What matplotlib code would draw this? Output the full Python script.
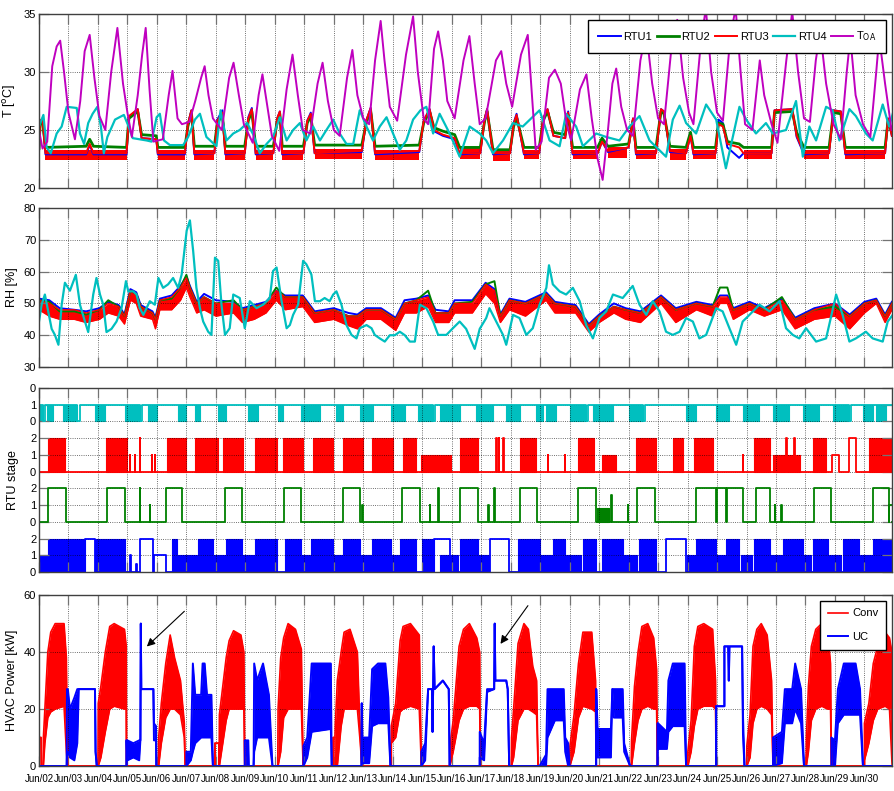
import matplotlib
matplotlib.use('Agg')
import matplotlib.pyplot as plt
from matplotlib import font_manager
import numpy as np

plt.rcParams['font.family'] = ['Liberation Sans', 'DejaVu Sans']
plt.rcParams['font.size'] = 8

# ---------------- data (time in days from Jun/02 00:00) ----------------
day_labels = ['Jun/%02d' % d for d in range(2, 31)]

# outdoor air temperature
toa_t = [0.0, 0.12, 0.28, 0.45, 0.6, 0.72, 0.85, 1.0, 1.22, 1.4, 1.55, 1.72, 1.88, 2.05, 2.25, 2.45,
         2.66, 2.85, 3.0, 3.15, 3.35, 3.5, 3.62, 3.75, 3.88, 4.2, 4.4, 4.53, 4.7, 4.85, 5.1, 5.3, 5.5,
         5.62, 5.75, 5.9, 6.2, 6.45, 6.6, 6.78, 6.95, 7.25, 7.45, 7.58, 7.75, 7.9, 8.15, 8.4, 8.6, 8.78,
         8.95, 9.2, 9.45, 9.62, 9.8, 10.0, 10.2, 10.45, 10.63, 10.8, 11.0, 11.2, 11.4, 11.59, 11.72,
         11.9, 12.15, 12.45, 12.69, 12.85, 13.05, 13.2, 13.4, 13.54, 13.7, 13.85, 14.1, 14.4, 14.6,
         14.78, 14.95, 15.15, 15.5, 15.68, 15.85, 16.05, 16.35, 16.58, 16.72, 16.85, 17.05, 17.3, 17.5,
         17.7, 17.9, 18.05, 18.35, 18.57, 18.75, 18.95, 19.12, 19.3, 19.45, 19.58, 19.75, 19.95, 20.15,
         20.4, 20.6, 20.8, 21.0, 21.2, 21.45, 21.65, 21.85, 22.05, 22.2, 22.45, 22.62, 22.8, 23.0, 23.2,
         23.45, 23.63, 23.8, 23.95, 24.2, 24.45, 24.6, 24.85, 25.05, 25.35, 25.55, 25.75, 25.95, 26.15,
         26.35, 26.5, 26.7, 26.95, 27.2, 27.4, 27.52, 27.7, 27.95, 28.2, 28.4, 28.5, 28.7, 28.92]
toa_v = [25.0, 23.4, 24.0, 30.5, 32.2, 32.7, 30.0, 26.5, 24.2, 27.5, 31.8, 33.2, 29.5, 26.2, 25.0, 30.0,
         33.8, 29.0, 26.5, 24.4, 28.0, 31.5, 33.8, 28.5, 24.0, 24.2, 28.0, 30.1, 26.0, 25.5, 25.7, 27.5, 29.5,
         30.5, 28.0, 26.0, 25.0, 29.5, 30.8, 28.0, 25.5, 23.9, 28.0, 29.8, 27.0, 24.5, 23.2, 28.5, 31.5, 28.0,
         25.0, 24.7, 29.0, 30.8, 27.5, 25.0, 24.5, 29.5, 31.9, 28.0, 26.0, 25.5, 31.0, 34.4, 31.0,
         27.0, 25.8, 31.5, 34.8, 30.0, 26.0, 25.5, 32.0, 33.5, 31.0, 27.5, 26.0, 31.0, 33.1,
         29.0, 25.5, 26.0, 31.0, 31.8, 29.0, 27.0, 31.5, 33.2, 28.0, 23.3, 24.0, 29.5, 30.2,
         29.0, 25.5, 24.1, 28.5, 29.8, 26.0, 22.5, 20.7, 25.0, 29.0, 30.3, 27.0, 25.0, 24.5,
         31.0, 33.5, 29.0, 26.0, 25.5, 32.0, 34.5, 29.5, 26.5, 25.5, 32.5, 35.5, 30.0, 26.5, 25.8,
         33.0, 35.5, 30.0, 25.5, 25.0, 31.0, 28.0, 25.5, 23.9, 31.0, 35.2, 30.0, 26.0, 25.7,
         31.0, 33.5, 29.0, 25.5, 24.2, 30.0, 33.0, 28.0, 25.5, 24.4, 30.0, 33.0, 29.0, 25.0]

# zone temperatures RTU1..RTU3 (shared time breakpoints)
rtu_t = [0.0, 0.04, 0.12, 0.22, 1.6, 1.72, 1.85, 2.97, 3.05, 3.35, 3.48, 3.98, 4.03, 4.95, 5.05, 5.17,
         5.27, 5.95, 6.05, 6.22, 6.32, 6.98, 7.1, 7.22, 7.35, 7.95, 8.08, 8.17, 8.25, 8.97, 9.1, 9.22,
         9.35, 10.95, 11.1, 11.25, 11.4, 12.9, 13.05, 13.25, 13.4, 13.7, 14.1, 14.27, 14.97, 15.12,
         15.2, 15.4, 15.98, 16.1, 16.2, 16.45, 16.97, 17.1, 17.25, 17.45, 17.85, 17.95, 18.1, 18.95,
         19.1, 19.3, 20.0, 20.15, 20.25, 20.93, 21.1, 21.2, 21.4, 21.95, 22.1, 22.2, 22.95, 23.05,
         23.2, 23.35, 23.75, 23.9, 24.85, 24.95, 25.55, 25.7, 25.95, 26.8, 26.95, 27.2, 27.35, 28.7,
         28.8, 28.93]
rtu3_T = [23.2, 25.8, 26.0, 23.0, 23.0, 23.8, 23.0, 23.0, 26.2, 26.8, 24.3, 24.2, 23.0, 23.0, 25.5, 26.7,
          23.0, 23.0, 25.8, 26.5, 23.0, 23.0, 26.0, 26.8, 23.0, 23.0, 26.0, 26.6, 23.0, 23.0, 25.8, 26.4,
          23.0, 23.2, 25.8, 26.9, 23.0, 23.2, 25.8, 26.8, 25.0, 24.6, 24.3, 23.0, 23.0, 26.0,
          26.8, 23.0, 23.0, 25.5, 26.3, 23.0, 23.0, 26.0, 26.8, 24.5, 24.3, 26.5, 23.0, 23.0,
          24.0, 23.2, 23.5, 26.0, 23.0, 23.0, 26.8, 26.6, 23.2, 23.0, 24.5, 23.0, 23.0, 25.5,
          25.3, 23.8, 23.5, 23.0, 23.0, 26.7, 26.8, 24.5, 23.0, 23.0, 26.7, 26.6, 23.0, 23.0,
          26.0, 24.5]
rtu2_T = [23.4, 25.6, 25.8, 23.5, 23.6, 24.2, 23.6, 23.5, 26.0, 26.6, 24.6, 24.5, 23.5, 23.5, 25.3, 26.5,
          23.6, 23.6, 25.6, 26.3, 23.6, 23.6, 25.8, 26.6, 23.6, 23.6, 25.8, 26.4, 23.6, 23.6, 25.6, 26.2,
          23.7, 23.7, 25.6, 26.7, 23.6, 23.7, 25.6, 26.6, 25.2, 24.9, 24.6, 23.5, 23.5, 25.8,
          26.6, 23.3, 23.3, 25.3, 26.1, 23.5, 23.5, 25.8, 26.6, 24.8, 24.6, 26.3, 23.5, 23.5,
          24.3, 23.6, 23.8, 25.8, 23.5, 23.5, 26.6, 26.4, 23.6, 23.5, 24.8, 23.5, 23.5, 25.6,
          25.5, 24.0, 23.8, 23.5, 23.5, 26.5, 26.6, 24.8, 23.5, 23.5, 26.5, 26.4, 23.5, 23.5,
          25.8, 24.8]
rtu1_T = [23.0, 25.7, 25.9, 22.9, 22.9, 23.7, 22.9, 22.9, 26.1, 26.8, 24.3, 24.2, 22.9, 22.9, 25.5, 26.7,
          22.9, 23.0, 25.9, 26.7, 22.9, 23.0, 26.1, 26.9, 22.9, 23.0, 26.0, 26.6, 22.9, 23.0, 25.8, 26.5,
          23.0, 23.1, 25.8, 26.9, 22.9, 23.1, 25.8, 26.8, 24.9, 24.5, 24.2, 22.9, 23.0, 26.0,
          26.8, 22.9, 23.0, 25.6, 26.4, 22.9, 23.0, 26.0, 26.8, 24.5, 24.3, 26.6, 22.9, 23.0,
          24.0, 23.1, 23.5, 26.0, 22.9, 23.0, 26.8, 26.6, 23.1, 23.0, 24.5, 22.9, 23.0, 25.9,
          25.6, 23.5, 22.6, 23.0, 23.0, 26.7, 26.8, 24.4, 22.9, 23.0, 26.7, 26.6, 22.9, 23.0,
          26.0, 24.5]
# periods where RTU3 temperature chatters in a band (start, end, low, high)
rtu3_T_band = [(0.22, 2.97, 22.4, 23.3), (4.03, 4.95, 22.4, 23.3), (5.27, 5.95, 22.4, 23.3),
               (6.32, 6.98, 22.4, 23.3), (7.35, 7.95, 22.4, 23.3), (8.25, 8.97, 22.4, 23.3),
               (9.35, 10.95, 22.5, 23.4), (11.4, 12.9, 22.4, 23.3), (14.27, 14.97, 22.5, 23.5),
               (15.4, 15.98, 22.3, 23.4), (16.45, 16.97, 22.5, 23.3), (18.1, 18.95, 22.5, 23.3),
               (19.3, 19.95, 22.6, 23.5), (20.25, 20.93, 22.5, 23.3), (21.4, 21.95, 22.4, 23.4),
               (22.2, 22.95, 22.5, 23.3), (23.9, 24.85, 22.5, 23.3), (25.95, 26.8, 22.5, 23.3),
               (27.35, 28.7, 22.5, 23.3)]

rtu4_T_t = [0.0, 0.15, 0.26, 0.4, 0.6, 0.77, 0.94, 1.28, 1.39, 1.53, 1.67, 1.82, 1.98, 2.1, 2.2, 2.32,
            2.58, 2.88, 3.04, 3.18, 3.65, 3.82, 3.99, 4.1, 4.24, 4.44, 4.89, 5.06, 5.29, 5.46, 5.68,
            6.02, 6.16, 6.36, 6.59, 6.81, 7.06, 7.27, 7.49, 7.72, 7.94, 8.17, 8.4, 8.62, 8.85, 9.07,
            9.3, 9.53, 9.75, 9.98, 10.2, 10.43, 10.66, 10.88, 11.11, 11.33, 11.56, 11.79, 12.01, 12.24,
            12.46, 12.69, 12.94, 13.14, 13.37, 13.59, 13.93, 14.27, 14.61, 14.95, 15.17, 15.4, 15.74,
            16.08, 16.41, 16.98, 17.32, 17.66, 17.88, 18.22, 18.45, 18.9, 19.24, 19.69, 20.03, 20.37,
            20.71, 21.27, 21.5, 21.73, 21.95, 22.29, 22.63, 22.97, 23.3, 23.76, 23.99, 24.32, 24.66,
            24.89, 25.34, 25.68, 25.91, 26.13, 26.36, 26.7, 26.92, 27.15, 27.49, 27.71, 28.05, 28.28,
            28.62, 28.84, 28.96]
rtu4_T = [25.3, 26.3, 23.5, 23.0, 24.7, 25.3, 27.0, 26.9, 24.7, 23.8, 25.6, 26.4, 27.0, 25.3, 23.0, 24.4,
          25.9, 26.3, 25.3, 24.3, 24.1, 24.0, 26.1, 26.4, 24.1, 23.7, 23.7, 24.4, 25.9, 26.4, 24.4,
          23.6, 26.7, 24.1, 24.7, 25.0, 25.6, 24.6, 23.0, 23.8, 24.4, 26.1, 24.1, 25.0, 25.6, 24.1,
          25.3, 24.1, 25.0, 25.9, 24.7, 23.8, 23.8, 26.7, 25.3, 24.1, 25.3, 26.1, 24.7, 23.3,
          24.1, 25.9, 26.7, 27.0, 24.7, 26.4, 24.7, 22.7, 25.3, 24.7, 24.1, 23.0, 24.1,
          25.6, 25.3, 26.7, 24.1, 23.6, 26.4, 25.3, 23.6, 24.7, 24.4, 24.1, 25.3, 26.2,
          24.1, 22.7, 25.9, 27.1, 25.6, 24.7, 27.2, 25.9, 21.7, 27.0, 25.9, 24.7, 25.6,
          24.7, 25.0, 27.5, 22.7, 25.3, 24.1, 27.0, 26.7, 24.1, 26.8, 26.2, 24.7, 24.1,
          27.2, 25.3, 26.4]

# relative humidity RTU1..RTU3 (RTU3 drawn as a band low..high)
rh_t = [0.0, 0.35, 0.7, 1.2, 1.6, 2.05, 2.35, 2.7, 2.9, 3.1, 3.3, 3.45, 3.85, 3.95, 4.1, 4.5, 4.8, 5.0,
        5.12, 5.35, 5.6, 6.0, 6.6, 6.9, 7.3, 7.7, 8.05, 8.35, 8.95, 9.35, 10.0, 10.5, 10.8, 11.1, 11.6,
        12.1, 12.4, 12.8, 13.2, 13.45, 13.9, 14.1, 14.7, 15.15, 15.45, 15.65, 15.96, 16.5, 17.2, 17.5,
        18.2, 18.65, 19.0, 19.5, 19.9, 20.4, 21.1, 21.6, 22.3, 22.85, 23.1, 23.35, 23.55, 24.1, 24.6,
        25.2, 25.65, 26.3, 27.0, 27.5, 28.0, 28.4, 28.7, 28.93]
rh3_lo = [48, 46, 45, 45, 44, 45, 47, 46, 43.5, 51, 50, 46, 45, 42, 48, 48, 51, 55,
          52, 47, 48, 46, 47, 44, 45, 47, 51, 48, 49, 44, 45, 43, 42, 45, 45,
          41.5, 47, 47, 49, 44, 44, 47, 47, 53, 50, 44, 48, 46, 51, 47,
          47, 41, 44, 47, 45, 44, 50, 44, 48, 46, 50, 50, 45, 48, 46,
          48, 42, 45, 46, 42, 47, 50, 44, 48]
rh3_hi = [51, 50, 48, 48, 47, 48, 50, 49, 46, 54, 53, 49, 47, 45, 51, 52, 55, 58,
          55, 50, 52, 50, 50, 48, 49, 50, 54, 52, 52, 47, 48, 46, 46, 48, 48,
          45, 50, 51, 52, 47, 47, 50, 50, 56, 54, 46, 51, 50, 53, 50,
          49, 43, 46, 49, 48, 47, 52, 48, 50, 49, 52, 52, 48, 50, 48,
          51, 45, 48, 50, 46, 50, 51, 46, 50]
rh2 = [51, 50.5, 47.5, 47.5, 46.5, 48, 51, 49, 46, 54, 53, 49, 47, 45, 51, 51.5, 55, 59,
       55, 50, 52, 50, 51, 48, 49, 50, 55, 52, 52, 47, 48, 46, 46, 48, 48,
       45, 50, 51, 54, 47, 47, 50, 50.5, 56, 57, 46, 51, 50, 53, 50,
       49, 43, 46, 49, 48, 47, 52, 48, 50, 49, 55, 55, 48, 50, 48,
       52, 45, 48, 49, 46, 50, 51, 46, 50]
rh1 = [51.5, 51, 48.5, 48, 47.5, 48.5, 50.5, 49.5, 46.5, 54.5, 53.5, 49.5, 47.5, 45.5, 51.5, 52.5, 55.5, 58.5,
       55.5, 50.5, 53, 51, 50.5, 48.5, 49.5, 50.5, 54, 52.5, 52.5, 47.5, 48.5, 47, 46.5, 48.5, 48.5,
       45.5, 51, 51.5, 52.5, 48, 47.5, 51, 51, 56.5, 54.5, 46.5, 51.5, 50.5, 53.5, 50.5,
       49.5, 43.5, 46.5, 50, 48.5, 47.5, 52.5, 48.5, 50.5, 49.5, 52.5, 52.5, 48.5, 50.5, 48.5,
       51.5, 45.5, 48.5, 50, 46.5, 50.5, 51.5, 46.5, 50.5]

rh4_t = [0.0, 0.09, 0.2, 0.43, 0.54, 0.66, 0.77, 0.88, 1.05, 1.25, 1.39, 1.56, 1.67, 1.84, 1.95, 2.07,
         2.18, 2.29, 2.46, 2.63, 2.8, 2.95, 3.03, 3.2, 3.31, 3.42, 3.54, 3.76, 3.93, 4.05, 4.21, 4.38,
         4.55, 4.72, 4.84, 5.01, 5.12, 5.23, 5.34, 5.46, 5.57, 5.74, 5.85, 5.97, 6.08, 6.19, 6.31,
         6.47, 6.59, 6.81, 6.98, 7.15, 7.38, 7.6, 7.83, 7.94, 8.06, 8.23, 8.4, 8.51, 8.62, 8.79, 8.96,
         9.07, 9.24, 9.36, 9.53, 9.69, 9.86, 9.98, 10.09, 10.26, 10.43, 10.6, 10.77, 10.88, 11.11,
         11.28, 11.39, 11.56, 11.73, 11.9, 12.07, 12.24, 12.41, 12.58, 12.75, 12.92, 13.14, 13.37,
         13.54, 13.82, 14.04, 14.27, 14.49, 14.78, 14.95, 15.17, 15.28, 15.51, 15.74, 15.85, 16.08,
         16.3, 16.53, 16.75, 16.98, 17.21, 17.3, 17.43, 17.66, 17.88, 18.11, 18.34, 18.56, 18.79,
         19.01, 19.24, 19.47, 19.8, 20.14, 20.37, 20.6, 20.82, 21.05, 21.27, 21.5, 21.73, 21.95,
         22.18, 22.4, 22.63, 22.97, 23.19, 23.42, 23.65, 23.87, 24.1, 24.44, 24.78, 25.12, 25.34,
         25.57, 25.79, 26.02, 26.36, 26.7, 27.04, 27.26, 27.49, 27.71, 28.05, 28.28, 28.62, 28.79,
         28.96]
rh4 = [44.3, 49.6, 52.8, 42.0, 40.1, 37.0, 49.6, 56.5, 54.0, 59.0, 49.6, 44.3, 41.0, 52.8, 58.0, 52.8,
       49.6, 41.0, 42.0, 44.3, 48.5, 57.0, 53.8, 53.8, 52.8, 48.5, 46.4, 50.7, 49.6, 58.0, 54.9, 56.0,
       58.0, 54.9, 59.1, 72.9, 76.1, 66.5, 54.9, 48.5, 44.3, 41.1, 40.1, 64.4, 63.4, 49.6, 40.1,
       42.2, 52.8, 51.7, 42.2, 50.7, 48.5, 49.6, 51.7, 60.2, 61.3, 50.7, 42.2, 43.2, 46.4, 49.6, 63.4,
       62.3, 59.1, 50.7, 50.7, 51.7, 50.7, 52.8, 53.8, 49.6, 43.2, 40.1, 39.0, 42.2, 43.2,
       42.2, 40.1, 39.0, 38.0, 40.0, 40.0, 41.1, 40.0, 38.0, 38.0, 49.6, 48.5, 44.3,
       40.1, 40.1, 42.2, 44.3, 42.0, 35.7, 42.0, 45.4, 48.5, 44.3, 40.1, 37.0, 46.4,
       45.4, 40.1, 42.2, 49.6, 54.9, 62.0, 56.0, 53.8, 52.8, 54.9, 50.7, 43.2, 39.0,
       45.4, 47.5, 52.8, 51.7, 55.5, 49.6, 46.4, 50.7, 47.5, 41.1, 40.1, 41.1, 45.4,
       44.3, 39.0, 40.1, 48.5, 47.5, 42.2, 37.0, 44.3, 46.4, 49.6, 47.5, 50.7, 42.2,
       40.1, 39.0, 42.2, 38.0, 39.0, 52.8, 46.4, 38.0, 39.0, 41.1, 39.0, 38.0, 44.3,
       46.4]

# RTU stages: constant-level segments (start, end, level) and chattering blocks (start, end, low, high)
rtu4_stage_base = 1
rtu4_stage_cyc = [(0.0, 0.12, 0, 1), (0.26, 0.49, 0, 1), (0.82, 1.28, 0, 1), (1.9, 2.24, 0, 1),
                  (2.92, 3.42, 0, 1), (3.71, 3.99, 0, 1), (4.72, 5.0, 0, 1), (5.29, 5.46, 0, 1),
                  (6.08, 6.36, 0, 1), (7.1, 7.44, 0, 1), (8.11, 8.28, 0, 1), (8.9, 9.53, 0, 1),
                  (10.09, 10.32, 0, 1), (10.88, 11.33, 0, 1), (11.95, 12.41, 0, 1), (12.86, 13.37, 0, 1),
                  (13.59, 14.27, 0, 1), (14.83, 15.4, 0, 1), (15.85, 16.3, 0, 1), (16.87, 17.09, 0, 1),
                  (17.2, 17.55, 0, 1), (18.0, 18.56, 0, 1), (18.79, 19.47, 0, 1), (20.03, 20.48, 0, 1),
                  (21.95, 22.29, 0, 1), (22.97, 23.42, 0, 1), (23.87, 24.44, 0, 1), (24.89, 25.45, 0, 1),
                  (25.9, 26.47, 0, 1), (26.92, 27.49, 0, 1), (27.94, 28.28, 0, 1), (28.39, 28.73, 0, 1)]
rtu4_stage_seg = [(0.12, 0.2, 0), (1.28, 1.4, 0), (3.42, 3.5, 0), (13.37, 13.45, 0), (18.56, 18.62, 0),
                  (20.48, 20.55, 0), (27.49, 27.55, 0)]

rtu3_stage_base = 0
rtu3_stage_cyc = [(0.32, 0.88, 0, 2), (2.29, 2.97, 0, 2), (4.33, 5.0, 0, 2), (5.29, 6.08, 0, 2),
                  (6.25, 6.93, 0, 2), (7.32, 8.06, 0, 2), (8.28, 8.96, 0, 2), (9.3, 9.98, 0, 2),
                  (10.32, 10.99, 0, 2), (11.28, 12.0, 0, 2), (12.35, 12.8, 0, 2), (14.27, 14.89, 0, 2),
                  (16.3, 16.87, 0, 2), (18.28, 18.84, 0, 2), (20.26, 20.93, 0, 2), (21.5, 21.84, 0, 2),
                  (22.23, 22.86, 0, 2), (24.27, 24.78, 0, 2), (26.25, 26.7, 0, 2), (28.17, 28.96, 0, 2),
                  (12.97, 13.99, 0, 1), (19.1, 19.58, 0, 1), (24.9, 25.8, 0, 1)]
rtu3_stage_seg = [(3.08, 3.1, 1), (3.25, 3.27, 1), (3.42, 3.44, 2), (3.82, 3.84, 1), (3.93, 3.95, 1),
                  (15.5, 15.52, 2), (15.6, 15.62, 2), (15.75, 15.77, 2), (17.26, 17.28, 1),
                  (17.83, 17.85, 1), (23.87, 23.89, 1), (25.35, 25.37, 2), (25.62, 25.64, 2),
                  (26.9, 27.15, 1), (27.49, 27.71, 2)]

rtu2_stage_base = 0
rtu2_stage_cyc = [(18.92, 19.35, 0, 0.8)]
rtu2_stage_seg = [(0.32, 0.92, 2), (2.32, 2.92, 2), (3.42, 3.44, 2), (3.76, 3.78, 1), (4.31, 4.84, 2),
                  (6.31, 6.9, 2), (8.31, 8.9, 2), (10.32, 10.9, 2), (10.96, 10.98, 1), (12.33, 12.92, 2),
                  (13.25, 13.27, 1), (13.54, 13.56, 2), (14.27, 14.89, 2), (15.23, 15.25, 1),
                  (15.45, 15.47, 2), (16.3, 16.89, 2), (18.28, 18.88, 2), (19.42, 19.44, 1.6),
                  (19.97, 19.99, 1), (20.29, 20.88, 2), (22.29, 22.97, 2), (23.0, 23.3, 2),
                  (23.33, 23.87, 2), (24.32, 24.78, 2), (24.95, 24.97, 1), (25.17, 25.19, 1),
                  (26.3, 26.87, 2), (28.28, 28.84, 2), (28.84, 28.96, 1)]

rtu1_stage_base = 0
rtu1_stage_cyc = [(0.32, 1.56, 0, 2), (1.9, 2.92, 0, 2), (4.5, 4.67, 0, 2), (5.4, 5.9, 0, 2),
                  (6.36, 6.87, 0, 2), (7.32, 8.06, 0, 2), (8.34, 8.9, 0, 2), (9.24, 9.98, 0, 2),
                  (10.32, 10.88, 0, 2), (11.28, 11.95, 0, 2), (12.24, 12.8, 0, 2), (12.98, 13.4, 0, 2),
                  (14.27, 14.89, 0, 2), (16.25, 16.98, 0, 2), (17.43, 17.83, 0, 2), (18.45, 18.9, 0, 2),
                  (19.1, 19.8, 0, 2), (20.37, 20.93, 0, 2), (22.29, 22.97, 0, 2), (23.3, 23.76, 0, 2),
                  (24.27, 24.78, 0, 2), (25.23, 25.9, 0, 2), (26.25, 26.75, 0, 2), (27.26, 27.83, 0, 2),
                  (28.28, 28.96, 0, 2),
                  (0.0, 0.3, 0, 1), (4.7, 5.35, 0, 1), (5.95, 6.3, 0, 1), (6.9, 7.3, 0, 1),
                  (8.9, 9.2, 0, 1), (9.98, 10.3, 0, 1), (10.9, 11.25, 0, 1), (11.95, 12.2, 0, 1),
                  (13.6, 14.2, 0, 1), (14.9, 15.25, 0, 1), (17.0, 17.4, 0, 1), (17.85, 18.4, 0, 1),
                  (19.85, 20.3, 0, 1), (21.97, 22.25, 0, 1), (22.98, 23.28, 0, 1), (23.8, 24.2, 0, 1),
                  (24.8, 25.2, 0, 1), (25.92, 26.2, 0, 1), (26.8, 27.2, 0, 1), (27.85, 28.25, 0, 1)]
rtu1_stage_seg = [(1.56, 1.9, 2), (3.1, 3.12, 1), (3.3, 3.32, 0.5), (3.43, 3.88, 2), (3.9, 4.3, 1),
                  (13.4, 13.93, 2), (15.3, 15.96, 2), (21.27, 21.95, 2)]

# HVAC power (time, low, high) - low==high where the trace is a single line
conv_pts = [(0.00, 10, 10), (0.07, 10, 10), (0.08, 0, 0), (0.14, 0, 0), (0.15, 0, 10), (0.20, 8, 20),
            (0.30, 17, 40), (0.40, 19, 47), (0.55, 20, 50), (0.85, 21, 50), (0.93, 5, 38), (0.97, 0, 0),
            (2.0, 0, 0), (2.01, 0, 22), (2.1, 3, 28), (2.25, 12, 40), (2.4, 20, 49), (2.55, 21, 50),
            (2.9, 20, 48), (2.96, 20, 42), (2.97, 0, 0),
            (4.05, 0, 0), (4.06, 0, 10), (4.15, 8, 22), (4.3, 17, 36), (4.45, 20, 46), (4.6, 20, 38),
            (4.8, 18, 30), (4.93, 10, 15), (4.96, 0, 0),
            (5.97, 0, 0), (5.97, 8, 8), (6.1, 8, 8), (6.11, 0, 0), (6.12, 0, 18), (6.35, 16, 38),
            (6.45, 20, 44), (6.6, 20, 47.5), (6.85, 20, 46), (6.95, 20, 40), (6.98, 0, 0),
            (8.1, 0, 0), (8.11, 0, 20), (8.2, 5, 38), (8.3, 17, 45), (8.45, 20, 50), (8.7, 20, 48),
            (8.9, 20, 41), (8.96, 0, 0),
            (9.98, 0, 0), (9.98, 10, 10), (10.04, 10, 10), (10.05, 0, 14), (10.12, 0, 30),
            (10.25, 14, 40), (10.35, 20, 47), (10.55, 20, 48), (10.8, 20, 40), (10.9, 8, 10), (10.95, 0, 0),
            (11.95, 0, 0), (11.95, 8, 14), (12.1, 10, 22), (12.25, 19, 44), (12.35, 20, 49),
            (12.6, 21, 50), (12.9, 20, 46), (12.97, 0, 0),
            (13.93, 0, 0), (13.94, 0, 7), (14.05, 5, 16), (14.25, 16, 42), (14.4, 20, 48),
            (14.6, 21, 50), (14.85, 21, 45), (14.95, 20, 40), (14.97, 0, 0),
            (16.02, 0, 0), (16.03, 0, 10), (16.1, 3, 20), (16.25, 16, 43), (16.45, 20, 50),
            (16.6, 20, 48), (16.75, 19, 35), (16.88, 18, 30), (16.93, 0, 0),
            (18.0, 0, 0), (18.01, 0, 7), (18.15, 5, 18), (18.3, 17, 36), (18.45, 21, 47),
            (18.75, 20, 47), (18.88, 19, 30), (18.9, 0, 0),
            (20.09, 0, 0), (20.1, 0, 9), (20.2, 8, 28), (20.32, 16, 40), (20.45, 20, 49),
            (20.65, 21, 50), (20.85, 20, 45), (20.95, 20, 34), (20.98, 0, 0),
            (22.0, 0, 0), (22.01, 0, 5), (22.12, 5, 16), (22.23, 14, 42), (22.35, 20, 49),
            (22.55, 21, 50), (22.85, 21, 48), (22.95, 20, 30), (22.97, 0, 0),
            (24.0, 0, 0), (24.01, 0, 7), (24.12, 3, 18), (24.22, 15, 42), (24.35, 20, 48),
            (24.5, 21, 50), (24.7, 20, 46), (24.85, 18, 30), (24.9, 0, 0),
            (26.02, 0, 0), (26.03, 0, 10), (26.1, 5, 28), (26.2, 16, 42), (26.35, 20, 48),
            (26.55, 21, 50), (26.75, 20, 47), (26.85, 20, 36), (26.88, 0, 0),
            (28.0, 0, 0), (28.0, 2, 15), (28.15, 8, 22), (28.3, 16, 36), (28.45, 20, 42),
            (28.7, 21, 47), (28.85, 20, 45), (28.93, 2, 40), (28.95, 0, 0)]

uc_pts = [(0.0, 0, 0),
          (0.94, 0, 0), (0.95, 5, 27), (0.98, 5, 27), (1.05, 3, 20), (1.2, 2, 24), (1.3, 8, 27),
          (1.35, 27, 27), (1.9, 27, 27), (1.92, 5, 5), (1.96, 0, 0),
          (2.97, 0, 0), (2.97, 9, 9), (3.0, 2, 9), (3.2, 3, 8), (3.4, 2, 9), (3.44, 9, 9),
          (3.455, 50, 50), (3.47, 27, 27), (3.88, 27, 27), (3.9, 9, 15), (3.97, 9, 14), (3.98, 0, 0),
          (5.0, 0, 0), (5.0, 0, 5), (5.15, 2, 5), (5.22, 5, 36), (5.3, 8, 25), (5.5, 10, 25),
          (5.55, 10, 36), (5.62, 10, 36), (5.7, 10, 25), (5.85, 10, 25), (5.9, 0, 0),
          (6.98, 0, 0), (6.98, 0, 9), (7.1, 0, 9), (7.12, 0, 0), (7.28, 0, 0), (7.3, 5, 36),
          (7.4, 10, 30), (7.6, 10, 36), (7.8, 10, 25), (7.92, 0, 0),
          (8.97, 0, 0), (8.97, 0, 7), (9.1, 3, 10), (9.25, 12, 36), (9.9, 13, 36), (9.93, 0, 0),
          (10.94, 0, 0), (10.95, 22, 22), (10.97, 1, 10), (11.2, 1, 10), (11.3, 14, 34),
          (11.5, 15, 36), (11.75, 15, 36), (11.85, 15, 24), (11.92, 0, 0),
          (12.97, 0, 0), (12.97, 0, 5), (13.1, 2, 8), (13.2, 27, 27), (13.33, 27, 27), (13.35, 12, 12),
          (13.39, 42, 42), (13.42, 27, 27), (13.7, 30, 30), (13.9, 27, 27), (13.93, 0, 0),
          (14.95, 0, 0), (14.95, 3, 12), (15.1, 2, 8), (15.2, 26, 27), (15.44, 27, 27),
          (15.46, 50, 50), (15.48, 30, 30), (15.85, 30, 30), (15.9, 27, 27), (15.95, 0, 0),
          (16.98, 0, 0), (17.2, 0, 4), (17.25, 10, 27), (17.5, 16, 27), (17.8, 16, 27),
          (17.85, 5, 10), (17.95, 0, 8), (18.0, 0, 0),
          (18.9, 0, 0), (18.9, 27, 27), (18.95, 3, 13), (19.4, 3, 13), (19.45, 27, 27),
          (19.5, 17, 27), (19.8, 17, 27), (19.85, 5, 8), (20.05, 0, 0),
          (20.98, 0, 0), (20.99, 15, 15), (21.0, 6, 15), (21.3, 6, 12), (21.35, 12, 30),
          (21.5, 14, 36), (21.9, 14, 36), (21.95, 0, 0),
          (22.97, 0, 0), (22.97, 21, 21), (23.25, 21, 21), (23.25, 42, 42), (23.38, 42, 42),
          (23.4, 30, 30), (23.42, 42, 42), (23.85, 42, 42), (23.88, 11, 18), (23.93, 0, 0),
          (24.9, 0, 0), (24.9, 0, 10), (25.2, 1, 12), (25.3, 15, 27), (25.55, 15, 27),
          (25.65, 20, 36), (25.85, 15, 27), (25.95, 0, 0),
          (26.88, 0, 0), (26.88, 0, 10), (27.0, 0, 9), (27.1, 15, 27), (27.3, 18, 36),
          (27.7, 18, 36), (27.85, 18, 27), (27.95, 0, 0),
          (28.96, 0, 0)]

# arrows pointing at the UC spikes: (tip day, tip kW, tail day, tail kW)
arrows = [(3.59, 41.3, 5.0, 55.0), (15.6, 42.1, 16.64, 57.1)]

# ---------------- figure ----------------
c_blue, c_green, c_red, c_cyan, c_mag = '#0000ff', '#008000', '#ff0000', '#00bfbf', '#bf00bf'
xmax = 28.93

# a narrow face for the crowded date labels, if one is installed
names = {f.name for f in font_manager.fontManager.ttflist}
if 'Liberation Sans Narrow' in names:
    date_font, date_size = 'Liberation Sans Narrow', 8.5
else:
    date_font, date_size = 'Liberation Sans', 7

fig = plt.figure(figsize=(8.94, 7.91), dpi=100)
left, width = 0.0436, 0.954
ax1 = fig.add_axes([left, 0.7623, width, 0.220])
ax2 = fig.add_axes([left, 0.536, width, 0.201])
ax3 = fig.add_axes([left, 0.2769, width, 0.2326])
ax4 = fig.add_axes([left, 0.0316, width, 0.216])


def style(ax):
    ax.set_xlim(0, xmax)
    ax.set_xticks(range(len(day_labels)))
    ax.grid(True, linestyle=':', color='k', linewidth=0.6, alpha=0.75)
    ax.tick_params(direction='in', top=True, right=True, length=7, width=0.9,
                   color='0.45', labelsize=8, pad=2)
    for s in ax.spines.values():
        s.set_color('0.25')
        s.set_linewidth(1.0)


# temperature
ax1.plot(rtu_t, rtu1_T, color=c_blue, lw=1.4, label='RTU1')
ax1.plot(rtu_t, rtu2_T, color=c_green, lw=2.0, label='RTU2')
for t0, t1, lo, hi in rtu3_T_band:
    ax1.fill_between([t0, t1], [lo, lo], [hi, hi], color=c_red, lw=0)
ax1.plot(rtu_t, rtu3_T, color=c_red, lw=1.4, label='RTU3')
ax1.plot(rtu4_T_t, rtu4_T, color=c_cyan, lw=1.6, label='RTU4')
ax1.plot(toa_t, toa_v, color=c_mag, lw=1.4, label=r'T$_{\rm OA}$')
ax1.set_ylim(20, 35)
ax1.set_yticks([20, 25, 30, 35])
ax1.set_ylabel(r'T [$^{\rm o}$C]', fontsize=9, labelpad=4)
style(ax1)
ax1.set_xticklabels([])
leg = ax1.legend(loc='upper right', ncol=5, fontsize=8, handlelength=2.0, columnspacing=0.4,
                 handletextpad=0.25, borderaxespad=0.5, fancybox=False, framealpha=1,
                 edgecolor='k', borderpad=0.9)
leg.get_frame().set_linewidth(1.0)

# relative humidity
ax2.plot(rh_t, rh1, color=c_blue, lw=1.4)
ax2.plot(rh_t, rh2, color=c_green, lw=1.4)
ax2.fill_between(rh_t, rh3_lo, rh3_hi, color=c_red, lw=0)
ax2.plot(rh_t, rh3_lo, color=c_red, lw=1.0)
ax2.plot(rh_t, rh3_hi, color=c_red, lw=1.0)
ax2.plot(rh4_t, rh4, color=c_cyan, lw=1.6)
ax2.set_ylim(30, 80)
ax2.set_yticks(range(30, 81, 10))
ax2.set_ylabel('RH [%]', fontsize=9, labelpad=4)
style(ax2)
ax2.set_xticklabels([])

# RTU stages, stacked with offsets
stage_units = [(0, c_blue, rtu1_stage_base, rtu1_stage_seg, rtu1_stage_cyc),
               (3, c_green, rtu2_stage_base, rtu2_stage_seg, rtu2_stage_cyc),
               (6, c_red, rtu3_stage_base, rtu3_stage_seg, rtu3_stage_cyc),
               (9, c_cyan, rtu4_stage_base, rtu4_stage_seg, rtu4_stage_cyc)]
for off, col, base, segs, cycs in stage_units:
    xs, ys = [0], [base]
    for t0, t1, lvl in sorted(segs):
        xs += [t0, t0, t1, t1]
        ys += [base, lvl, lvl, base]
    xs.append(xmax)
    ys.append(base)
    ax3.plot(xs, np.array(ys) + off, color=col, lw=1.3)
    for t0, t1, lo, hi in cycs:
        ax3.fill_between([t0, t1], [off + lo] * 2, [off + hi] * 2, color=col, lw=0.8,
                         edgecolor=col)
ax3.set_ylim(0, 11)
ax3.set_yticks(range(12))
ax3.set_yticklabels(['0', '1', '2', '0', '1', '2', '0', '1', '2', '0', '1', '0'])
ax3.set_ylabel('RTU stage', fontsize=9, labelpad=8)
style(ax3)
ax3.set_xticklabels([])

# HVAC power
ct, clo, chi = np.array(conv_pts).T
ut, ulo, uhi = np.array(uc_pts).T
ax4.fill_between(ct, clo, chi, color=c_red, lw=0)
ax4.plot(ct, clo, color=c_red, lw=1.2)
ax4.plot(ct, chi, color=c_red, lw=1.2, label='Conv')
ax4.fill_between(ut, ulo, uhi, color=c_blue, lw=0)
ax4.plot(ut, ulo, color=c_blue, lw=1.4)
ax4.plot(ut, uhi, color=c_blue, lw=1.4, label='UC')
for tx, ty, sx, sy in arrows:
    ax4.annotate('', xy=(tx, ty), xytext=(sx, sy),
                 arrowprops=dict(arrowstyle='-|>', color='k', lw=0.8, mutation_scale=12))
ax4.set_ylim(0, 60)
ax4.set_yticks([0, 20, 40, 60])
ax4.set_ylabel('HVAC Power [kW]', fontsize=9, labelpad=4)
style(ax4)
ax4.tick_params(axis='x', pad=6)
ax4.set_xticklabels(day_labels, fontsize=date_size, family=[date_font, 'DejaVu Sans'])
leg2 = ax4.legend(loc='upper right', fontsize=8, handlelength=1.8, handletextpad=0.4,
                  borderaxespad=0.5, fancybox=False, framealpha=1, edgecolor='k',
                  labelspacing=1.2, borderpad=0.7)
leg2.get_frame().set_linewidth(1.0)

fig.savefig('out.png', dpi=100)
